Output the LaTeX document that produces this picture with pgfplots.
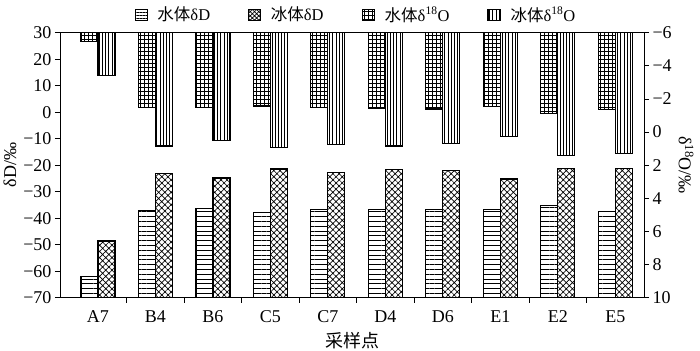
\documentclass[border=0pt]{standalone}
\usepackage{fontspec}
\setmainfont{Liberation Serif}
\newfontfamily\cjk{Noto Sans CJK SC}
\usepackage{pgfplots}
\usepackage{pgfplotstable}
\pgfplotsset{compat=1.18}
\usetikzlibrary{patterns.meta}

\pgfplotstableread{
x wD iD
0 -62.1 -48.6
1 -37.2 -23.1
2 -36.3 -24.8
3 -37.8 -21.4
4 -36.8 -22.7
5 -36.7 -21.7
6 -36.8 -22.1
7 -36.8 -25.2
8 -35.1 -21.1
9 -37.5 -21.2
}\dD

\pgfplotstableread{
x wO iO
0 -5.46 -3.40
1 -1.47 0.84
2 -1.49 0.50
3 -1.57 0.92
4 -1.49 0.74
5 -1.41 0.84
6 -1.39 0.70
7 -1.56 0.28
8 -1.13 1.40
9 -1.37 1.28
}\dO

\pgfplotsset{
  common/.style={
    at={(0,0)}, anchor=south west,
    scale only axis, width=584bp, height=265bp,
    xmin=-0.66, xmax=9.5,
    font=\fontsize{18bp}{21bp}\selectfont,
    tick align=outside,
    major tick length=5bp, minor tick length=5bp,
    axis line style={line width=0.9bp},
    tick style={line width=0.9bp, black},
    ybar, bar width=17bp,
  },
  barst/.style={draw=black, line width=1.2bp, fill=white,
    legend image code/.code={\draw[##1] (0bp,-5.5bp) rectangle (12bp,5.5bp); \path (20bp,0bp);}},
}

\begin{document}
\begin{tikzpicture}
\path[use as bounding box] (-60bp,-53.3bp) rectangle (640bp,297.7bp);
\begin{axis}[
  common,
  ymin=0, ymax=100,
  ytick={0,10,...,100},
  yticklabels={−70,−60,−50,−40,−30,−20,−10,0,10,20,30},
  xtick={0.5,1.5,...,8.5},
  xticklabels={},
  extra x ticks={0,1,...,9},
  extra x tick labels={A7,B4,B6,C5,C7,D4,D6,E1,E2,E5},
  extra x tick style={major tick length=0pt, xticklabel style={yshift=-9bp}},
  xtick pos=bottom, ytick pos=left,
  ylabel={δD/‰},
  xlabel={\cjk 采样点},
  xlabel style={at={(axis description cs:0.5,0)}, anchor=center, yshift=-43bp},
  y filter/.expression={y+70},
]
\addplot[barst, bar shift=-8.5bp, pattern={Lines[angle=0,distance=4.8bp,line width=0.7bp]}] table[x=x,y=wD]{\dD};
\addplot[barst, bar shift=8.5bp, pattern={Hatch[angle=45,distance=4.4bp,line width=0.7bp]}] table[x=x,y=iD]{\dD};
\end{axis}
\begin{axis}[
  common,
  ymin=0, ymax=16, y dir=reverse,
  axis x line=none, axis y line*=right,
  ytick={0,2,...,16},
  yticklabels={−6,−4,−2,0,2,4,6,8,10},
  ylabel={δ\textsuperscript{18}O/‰},
  ylabel style={rotate=180},
  y filter/.expression={y+6},
  legend columns=4,
  legend style={draw=none, fill=none, at={(0.507,1)}, anchor=south, yshift=6bp,
    font=\fontsize{16.5bp}{20bp}\selectfont,
    /tikz/every even column/.append style={column sep=36bp}},
]
\addlegendimage{barst, pattern={Lines[angle=0,distance=3bp,line width=0.7bp]}}
\addlegendentry{{\cjk 水体}δD}
\addlegendimage{barst, pattern={Hatch[angle=45,distance=3bp,line width=0.7bp]}}
\addlegendentry{{\cjk 冰体}δD}
\addplot[barst, bar shift=-8.5bp, pattern={Hatch[angle=0,distance=4bp,line width=0.7bp]}] table[x=x,y=wO]{\dO};
\addlegendentry{{\cjk 水体}δ\textsuperscript{18}O}
\addplot[barst, bar shift=8.5bp, pattern={Lines[angle=90,distance=3.2bp,line width=0.7bp]}] table[x=x,y=iO]{\dO};
\addlegendentry{{\cjk 冰体}δ\textsuperscript{18}O}
\end{axis}
\end{tikzpicture}
\end{document}
